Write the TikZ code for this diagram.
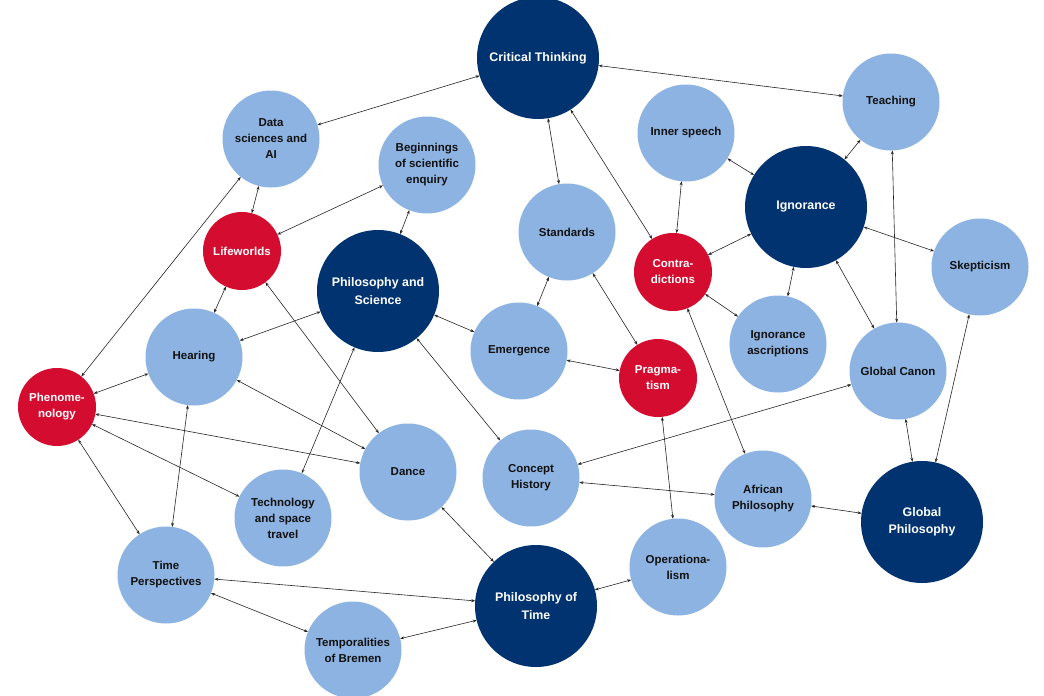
\documentclass[tikz,border=0pt]{standalone}
\usepackage{fontspec}
\setmainfont{Liberation Sans}
\usetikzlibrary{arrows.meta}
\definecolor{lightb}{HTML}{8DB3E2}
\definecolor{darkb}{HTML}{00336F}
\definecolor{redc}{HTML}{D40C2F}
\definecolor{txt}{HTML}{111111}
\begin{document}
\begin{tikzpicture}[x=1pt,y=1pt,
  base/.style={circle, inner sep=0pt, outer sep=0pt, align=center,
    font=\fontsize{11.5}{16}\selectfont\bfseries},
  lb/.style={base, fill=lightb, text=txt, minimum size=97pt},
  db/.style={base, fill=darkb, text=white, minimum size=122pt,
    font=\fontsize{12.4}{17.3}\selectfont\bfseries},
  rd/.style={base, fill=redc, text=white, minimum size=78pt},
  link/.style={{Stealth[length=4pt,width=3pt]}-{Stealth[length=4pt,width=3pt]},
    line width=0.6pt, draw=black!85}]
\useasboundingbox (0,0) rectangle (1044,-696);
\fill[white] (0,0) rectangle (1044,-696);
% nodes
\node[db] (ct)  at (538,-58)  {Critical Thinking};
\node[lb] (ds)  at (271,-139) {Data\\sciences and\\AI};
\node[lb] (beg) at (427,-165) {Beginnings\\of scientific\\enquiry};
\node[rd] (lw)  at (242,-251) {Lifeworlds};
\node[db] (ps)  at (378,-291) {Philosophy and\\Science};
\node[lb] (hr)  at (194,-357) {Hearing};
\node[rd] (ph)  at (57,-407)  {Phenome-\\nology};
\node[lb] (st)  at (567,-232) {Standards};
\node[lb] (em)  at (519,-351) {Emergence};
\node[rd] (pr)  at (658,-378) {Pragma-\\tism};
\node[rd] (co)  at (673,-272) {Contra-\\dictions};
\node[lb] (is)  at (686,-133) {Inner speech};
\node[db] (ig)  at (806,-207) {Ignorance};
\node[lb] (ia)  at (778,-344) {Ignorance\\ascriptions};
\node[lb] (te)  at (891,-102) {Teaching};
\node[lb] (sk)  at (980,-267) {Skepticism};
\node[lb] (gc)  at (898,-371) {Global Canon};
\node[db] (gp)  at (922,-522) {Global\\Philosophy};
\node[lb] (af)  at (763,-499) {African\\Philosophy};
\node[lb] (op)  at (678,-567) {Operationa-\\lism};
\node[lb] (ch)  at (531,-478) {Concept\\History};
\node[lb] (da)  at (408,-472) {Dance};
\node[lb] (tec) at (283,-518) {Technology\\and space\\travel};
\node[lb] (tp)  at (166,-575) {Time\\Perspectives};
\node[lb] (tb)  at (353,-650) {Temporalities\\of Bremen};
\node[db] (pt)  at (536,-606) {Philosophy of\\Time};
% connectors
\draw[link] (ct) -- (ds);
\draw[link] (ct) -- (te);
\draw[link] (ct) -- (st);
\draw[link] (ct) -- (co);
\draw[link] (ds) -- (lw);
\draw[link] (ds) -- (ph);
\draw[link] (lw) -- (beg);
\draw[link] (lw) -- (hr);
\draw[link] (lw) -- (da);
\draw[link] (beg) -- (ps);
\draw[link] (ps) -- (hr);
\draw[link] (ps) -- (em);
\draw[link] (ps) -- (tec);
\draw[link] (ps) -- (ch);
\draw[link] (hr) -- (ph);
\draw[link] (hr) -- (tp);
\draw[link] (hr) -- (da);
\draw[link] (ph) -- (da);
\draw[link] (ph) -- (tec);
\draw[link] (ph) -- (tp);
\draw[link] (st) -- (em);
\draw[link] (st) -- (pr);
\draw[link] (em) -- (pr);
\draw[link] (co) -- (is);
\draw[link] (co) -- (ig);
\draw[link] (co) -- (ia);
\draw[link] (co) -- (af);
\draw[link] (ig) -- (is);
\draw[link] (ig) -- (te);
\draw[link] (ig) -- (sk);
\draw[link] (ig) -- (ia);
\draw[link] (ig) -- (gc);
\draw[link] (te) -- (gc);
\draw[link] (gc) -- (ch);
\draw[link] (gc) -- (gp);
\draw[link] (sk) -- (gp);
\draw[link] (gp) -- (af);
\draw[link] (af) -- (ch);
\draw[link] (pr) -- (op);
\draw[link] (op) -- (pt);
\draw[link] (pt) -- (da);
\draw[link] (pt) -- (tp);
\draw[link] (pt) -- (tb);
\draw[link] (tp) -- (tb);
\end{tikzpicture}
\end{document}
